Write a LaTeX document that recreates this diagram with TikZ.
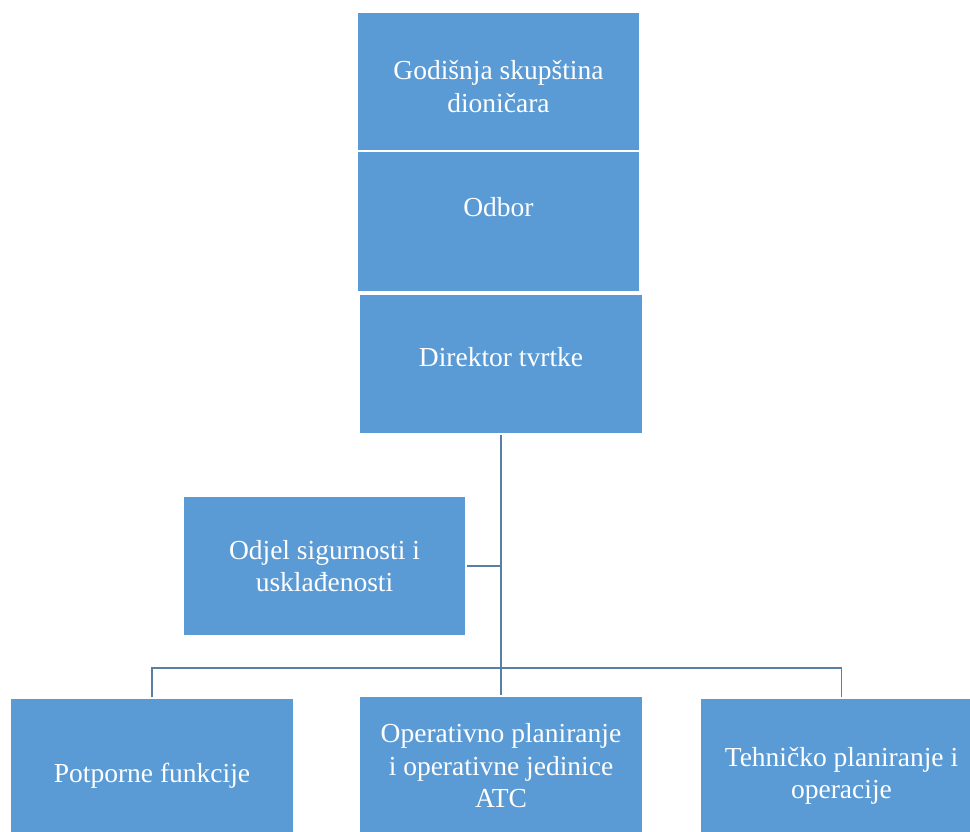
\documentclass[tikz,border=0pt]{standalone}
\usepackage{fontspec}
\setmainfont{Liberation Serif}
\definecolor{boxfill}{HTML}{5B9BD5}
\definecolor{linecol}{HTML}{5A7FA6}
\begin{document}
\begin{tikzpicture}[x=1pt,y=-1pt,
  box/.style={draw=white,line width=1.2pt,fill=boxfill,text=white,align=center,
    minimum width=283pt,minimum height=140pt,inner sep=0pt,
    font=\fontsize{27.5}{32.5}\selectfont},
  conn/.style={draw=linecol,line width=1.8pt}]
\useasboundingbox (0,0) rectangle (970,832);
\clip (0,0) rectangle (970,832);
\node[box,minimum height=138pt] (gs) at (498.5,81.5) {\strut\\[-26pt]Godišnja skupština\\dioničara};
\node[box,minimum height=141pt] (od) at (498.5,221.5) {Odbor\\[-14pt]\strut};
\node[box] (dt) at (501,364) {Direktor tvrtke\\[-28pt]\strut};
\node[box] (os) at (324.5,566) {Odjel sigurnosti i\\usklađenosti};
\node[box] (pf) at (152,768) {\strut\\[-20pt]Potporne funkcije};
\node[box] (op) at (501,766) {Operativno planiranje\\i operativne jedinice\\ATC};
\node[box] (tp) at (841.5,768) {\strut\\[-20pt]Tehničko planiranje i\\operacije};
\coordinate (bar) at (501,668);
\draw[conn] (dt.south) -- (op.north);
\draw[conn] (os.east) -- (os.east -| dt.south);
\draw[conn] (pf.north) -- (pf.north |- bar) -- (tp.north |- bar) -- (tp.north);
\end{tikzpicture}
\end{document}
